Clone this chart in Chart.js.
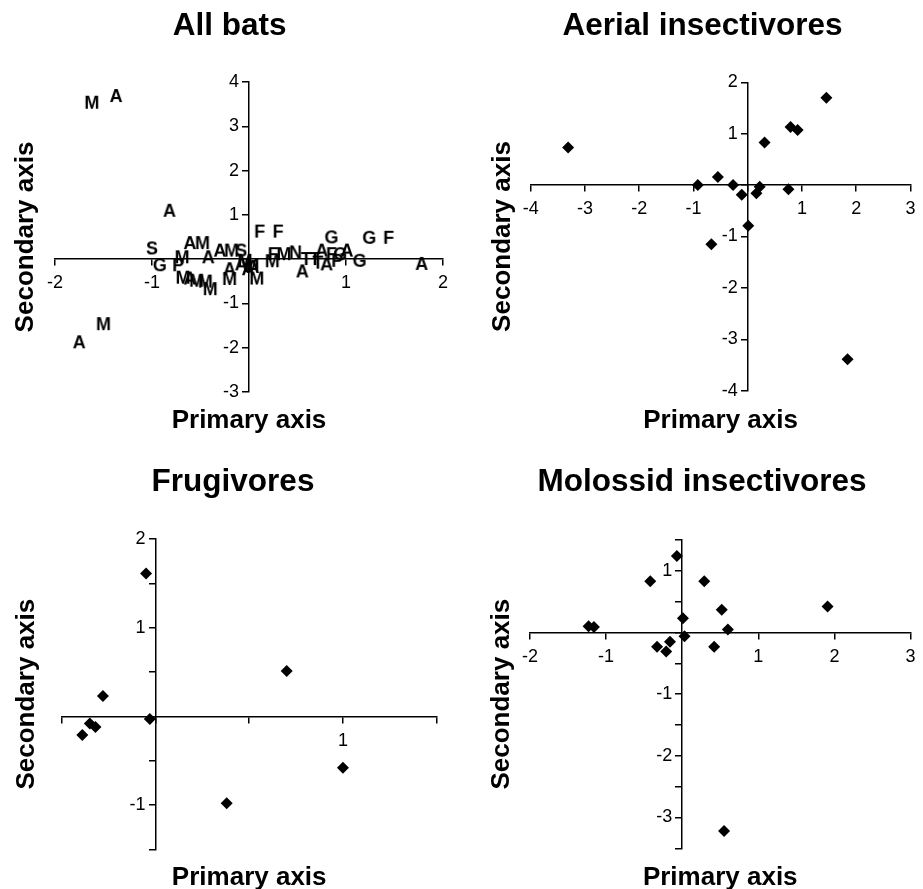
<!DOCTYPE html>
<html>
<head>
<meta charset="utf-8">
<title>Bat ordination</title>
<script src="https://cdn.jsdelivr.net/npm/chart.js@4.4.0/dist/chart.umd.min.js"></script>
<style>
  html, body { margin: 0; padding: 0; background: #fff; overflow: hidden; }
  .panel { position: absolute; }
</style>
</head>
<body>
<div class="panel" style="left:0;top:0;width:461px;height:444px"><canvas id="allBats"></canvas></div>
<div class="panel" style="left:461px;top:0;width:462px;height:444px"><canvas id="aerial"></canvas></div>
<div class="panel" style="left:0;top:444px;width:461px;height:460px"><canvas id="frugivores"></canvas></div>
<div class="panel" style="left:461px;top:444px;width:462px;height:460px"><canvas id="molossid"></canvas></div>
<script>
// ---- data ----
var titles = ['All bats', 'Aerial insectivores', 'Frugivores', 'Molossid insectivores'];

// all bats, one letter per species (guild code)
var allPrimary   = [-1.62, -1.37, -0.82, -1.00, -0.92, -0.73, -0.69, -0.61, -0.48, -0.42, -0.30, -0.18, -0.08,
                    -0.68, -0.61, -0.54, -0.45, -0.40, -0.20, -0.20, -0.08, -0.04, -0.01, 0.03, 0.04, 0.08,
                    0.11, 0.30, 0.24, 0.25, 0.36, 0.48, 0.59, 0.68, 0.55, 0.75, 0.85, 0.94, 1.01, 0.71,
                    0.80, 0.91, 0.85, 1.14, 1.24, 1.44, 1.78, -1.75, -1.50];
var allSecondary = [3.51, 3.66, 1.07, 0.22, -0.16, -0.16, 0.02, 0.34, 0.34, 0.02, 0.17, 0.17, 0.17,
                    -0.44, -0.46, -0.51, -0.53, -0.70, -0.25, -0.47, -0.14, -0.06, -0.25, -0.16, -0.20, -0.46,
                    0.60, 0.60, -0.07, 0.09, 0.09, 0.13, -0.02, -0.02, -0.30, 0.17, 0.09, 0.09, 0.17, -0.10,
                    -0.14, -0.06, 0.47, -0.06, 0.46, 0.46, -0.13, -1.90, -1.49];
var allGroup     = ['M', 'A', 'A', 'S', 'G', 'P', 'M', 'A', 'M', 'A', 'A', 'M', 'S',
                    'M', 'A', 'M', 'M', 'M', 'A', 'M', 'A', 'M', 'A', 'M', 'A', 'M',
                    'F', 'F', 'M', 'F', 'M', 'N', 'T', 'T', 'A', 'A', 'F', 'G', 'A', 'T',
                    'A', 'P', 'G', 'G', 'G', 'F', 'A', 'A', 'M'];

var aerialPrimary   = [-3.31, -0.92, -0.55, -0.27, -0.11, 0.01, -0.67, 0.16, 0.22, 0.31, 0.75, 0.79, 0.92, 1.45, 1.84];
var aerialSecondary = [0.73, 0.00, 0.16, 0.00, -0.19, -0.79, -1.15, -0.16, -0.03, 0.83, -0.08, 1.13, 1.07, 1.70, -3.39];

var frugPrimary   = [-0.05, -0.28, -0.35, -0.32, -0.39, -0.03, 0.70, 1.00, 0.38];
var frugSecondary = [1.61, 0.23, -0.08, -0.12, -0.21, -0.03, 0.51, -0.58, -0.98];

var moloPrimary   = [-0.07, -0.42, 0.29, 1.91, 0.52, 0.01, 0.60, -1.23, -1.16, 0.03, -0.16, -0.33, -0.21, 0.42, 0.55];
var moloSecondary = [1.24, 0.83, 0.83, 0.42, 0.37, 0.23, 0.05, 0.10, 0.09, -0.06, -0.15, -0.23, -0.31, -0.23, -3.22];

// axis ranges [min, max, step]
var allXAxis    = [-2, 2, 1],     allYAxis    = [-3, 4, 1];
var aerialXAxis = [-4, 3, 1],     aerialYAxis = [-4, 2, 1];
var frugXAxis   = [-0.5, 1.5, 0.5], frugYAxis = [-1.5, 2, 0.5];
var moloXAxis   = [-2, 3, 1],     moloYAxis   = [-3.5, 1.5, 0.5];

// ---- drawing ----
var FONT = '"Liberation Sans", Arial, Helvetica, sans-serif';

function toPoints(xs, ys) {
  var pts = [];
  for (var i = 0; i < xs.length; i++) pts.push({x: xs[i], y: ys[i]});
  return pts;
}

// small canvas with a bold letter, used as point style
var letterCache = {};
function letterIcon(ch) {
  if (letterCache[ch]) return letterCache[ch];
  var c = document.createElement('canvas');
  c.width = 24; c.height = 24;
  var g = c.getContext('2d');
  g.font = 'bold 18px ' + FONT;
  g.fillStyle = '#000';
  g.textAlign = 'center';
  g.textBaseline = 'middle';
  g.fillText(ch, 12, 12);
  letterCache[ch] = c;
  return c;
}

function tickLabel(v) {
  if (v === 0 || Math.abs(v % 1) > 1e-9) return '';
  return String(v) + '  ';
}

function makePanel(id, title, points, pointStyle, xAxis, yAxis, lay) {
  var axisLine = {display: true, color: '#000', width: 1.5};
  var tickMarks = {display: true, drawOnChartArea: false, drawTicks: true, tickLength: 6, color: '#000', lineWidth: 1.5};
  var tickFont = {family: FONT, size: 18};
  return new Chart(document.getElementById(id), {
    type: 'scatter',
    data: {
      datasets: [{
        data: points,
        xAxisID: 'x',
        yAxisID: 'y',
        pointStyle: pointStyle,
        pointRadius: 6,
        backgroundColor: '#000',
        borderColor: '#000',
        borderWidth: 0
      }]
    },
    options: {
      responsive: true,
      maintainAspectRatio: false,
      animation: false,
      layout: {padding: {left: lay.padL, right: lay.padR, top: 0, bottom: 0}},
      plugins: {
        legend: {display: false},
        tooltip: {enabled: false},
        title: {
          display: true,
          text: title,
          color: '#000',
          font: {family: FONT, size: 31.5, weight: 'bold', lineHeight: 1.2},
          padding: {top: lay.titleTop, bottom: lay.titleBottom}
        }
      },
      scales: {
        x: {
          type: 'linear',
          position: {y: 0},
          min: xAxis[0], max: xAxis[1],
          border: axisLine,
          grid: tickMarks,
          ticks: {stepSize: xAxis[2], autoSkip: false, maxRotation: 0, padding: 7.5, color: '#000', font: tickFont,
                  callback: function (v) { return (v === 0 || Math.abs(v % 1) > 1e-9) ? '' : String(v); }}
        },
        y: {
          type: 'linear',
          position: {x: 0},
          min: yAxis[0], max: yAxis[1],
          border: axisLine,
          grid: tickMarks,
          ticks: {stepSize: yAxis[2], autoSkip: false, padding: 4, color: '#000', font: tickFont, callback: tickLabel}
        },
        xTitle: {
          type: 'linear',
          position: 'bottom',
          border: {display: false},
          grid: {display: false, drawTicks: false},
          ticks: {display: false},
          title: {display: true, text: 'Primary axis', color: '#000',
                  font: {family: FONT, size: 26, weight: 'bold', lineHeight: 1.2},
                  padding: {top: lay.xTop, bottom: lay.xBottom}}
        },
        yTitle: {
          type: 'linear',
          position: 'left',
          border: {display: false},
          grid: {display: false, drawTicks: false},
          ticks: {display: false},
          title: {display: true, text: 'Secondary axis', color: '#000',
                  font: {family: FONT, size: 26, weight: 'bold', lineHeight: 1.2},
                  padding: {top: lay.yTop, bottom: lay.yBottom}}
        }
      }
    }
  });
}

var allStyles = allGroup.map(letterIcon);

makePanel('allBats', titles[0], toPoints(allPrimary, allSecondary), allStyles, allXAxis, allYAxis,
  {padL: 16.4, padR: 18, titleTop: 7, titleBottom: 37.2, yTop: -6, yBottom: 13.4, xTop: 13.3, xBottom: 7.5});

makePanel('aerial', titles[1], toPoints(aerialPrimary, aerialSecondary), 'rectRot', aerialXAxis, aerialYAxis,
  {padL: 26.4, padR: 5.3, titleTop: 7, titleBottom: 37.5, yTop: 0, yBottom: 12.1, xTop: 14.6, xBottom: 7.5});

makePanel('frugivores', titles[2], toPoints(frugPrimary, frugSecondary), 'rectRot', frugXAxis, frugYAxis,
  {padL: 29.3, padR: 24.3, titleTop: 19.9, titleBottom: 37.3, yTop: -17.9, yBottom: 19.1, xTop: 13.1, xBottom: 10.4});

makePanel('molossid', titles[3], toPoints(moloPrimary, moloSecondary), 'rectRot', moloXAxis, moloYAxis,
  {padL: 25.3, padR: 5.3, titleTop: 19.9, titleBottom: 38.3, yTop: 0, yBottom: 12.5, xTop: 14.1, xBottom: 10.4});
</script>
</body>
</html>
